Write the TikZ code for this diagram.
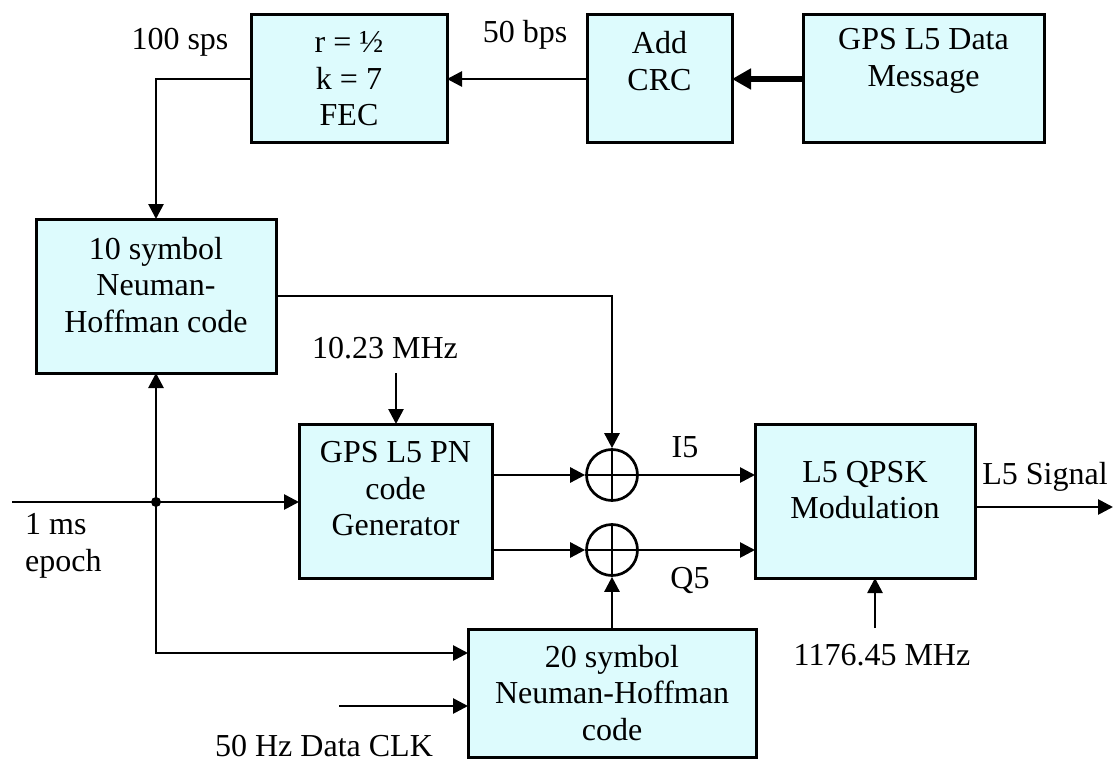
\documentclass[tikz,border=0pt]{standalone}
\usepackage{fontspec}
\setmainfont{Liberation Serif}
\usetikzlibrary{arrows.meta,positioning}
\definecolor{boxcyan}{RGB}{221,251,253}

\begin{document}
\begin{tikzpicture}[
            x=1pt, y=-1pt,
            font=\fontsize{32}{36.5}\selectfont,
            box/.style={draw, fill=boxcyan, line width=3pt, anchor=north west, inner sep=0pt, outer sep=0pt},
            boxtext/.style={align=center, inner sep=0pt},
            xorsym/.style={draw, circle, line width=2.7pt, minimum size=51pt, inner sep=0pt,
                path picture={\draw[line width=2.7pt] (path picture bounding box.north) -- (path picture bounding box.south)
                    (path picture bounding box.west) -- (path picture bounding box.east);}},
            wire/.style={line width=2.7pt},
            >={Triangle[length=15pt,width=15pt]}
        ]
        \useasboundingbox (0,0) rectangle (1114,765);

        % blocks
        \node[box, minimum width=196pt, minimum height=128pt, label={[boxtext]center:{r = ½\\k = 7\\FEC}}] (fec) at (251,15) {};
        \node[box, minimum width=145pt, minimum height=128pt, label={[boxtext, yshift=18pt]center:{Add\\CRC}}] (crc) at (587,15) {};
        \node[box, minimum width=241pt, minimum height=128pt, label={[boxtext, yshift=18pt]center:{GPS L5 Data\\Message}}] (msg) at (803,15) {};
        \node[box, minimum width=240pt, minimum height=154pt, label={[boxtext, yshift=11pt]center:{10 symbol\\Neuman-\\Hoffman code}}] (nh10) at (36,219) {};
        \node[box, minimum width=193pt, minimum height=154pt, label={[boxtext, yshift=12pt]center:{GPS L5 PN\\code\\Generator}}] (pn) at (299,424) {};
        \node[box, minimum width=220pt, minimum height=154pt, label={[boxtext, yshift=11pt]center:{L5 QPSK\\Modulation}}] (qpsk) at (755,424) {};
        \node[box, minimum width=288pt, minimum height=128pt, label={[boxtext]center:{20 symbol\\Neuman-Hoffman\\code}}] (nh20) at (468,629) {};

        \node[xorsym] (xori) at (612,475) {};
        \node[xorsym] (xorq) at (612,550) {};

        % labels
        \node (sps) at (180,42) {100 sps};
        \node (bps) at (525,35) {50 bps};
        \node (mhz) at (385,348) {10.23 MHz};
        \node[align=left, anchor=west, inner sep=0pt] (epoch) at (25,546) {1 ms\\epoch};
        \node (clk) at (324,746) {50 Hz Data CLK};
        \node (i5) at (685,447) {I5};
        \node (q5) at (690,580) {Q5};
        \node (sig) at (1045,477) {L5 Signal};
        \node (lo) at (882,655) {1176.45 MHz};

        \coordinate (epochin) at (12,502);
        \coordinate (junc) at (156,502);
        \coordinate (mhzin) at (396,373);
        \coordinate (clkin) at (339,706);
        \coordinate (loin) at (875,628);
        \coordinate (sigout) at (1113,507);

        % data path
        \draw[line width=6pt, -{Triangle[length=19pt,width=20pt]}] (msg.west) -- (crc.east);
        \draw[wire, ->] (crc.west) -- (fec.east);
        \draw[wire, ->] (fec.west) -| (nh10.north);
        \draw[wire, ->] (nh10.east) -| (xori.north);

        % epoch and clocks
        \draw[wire, ->] (epochin) -- (epochin -| pn.west);
        \fill (junc) circle (5pt);
        \draw[wire, ->] (junc) -- (junc |- nh10.south);
        \draw[wire, ->] (junc) |- ([yshift=40pt]nh20.west);
        \draw[wire, ->] (clkin) -- (clkin -| nh20.west);
        \draw[wire, ->] (mhzin) -- (mhzin |- pn.north);

        % code mixing and modulation
        \draw[wire, ->] (pn.east |- xori.west) -- (xori.west);
        \draw[wire, ->] (pn.east |- xorq.west) -- (xorq.west);
        \draw[wire, ->] (xorq.south |- nh20.north) -- (xorq.south);
        \draw[wire, ->] (xori.east) -- (xori.east -| qpsk.west);
        \draw[wire, ->] (xorq.east) -- (xorq.east -| qpsk.west);
        \draw[wire, ->] (loin) -- (loin |- qpsk.south);
        \draw[wire, ->] (qpsk.east |- sigout) -- (sigout);
    \end{tikzpicture}
\end{document}
